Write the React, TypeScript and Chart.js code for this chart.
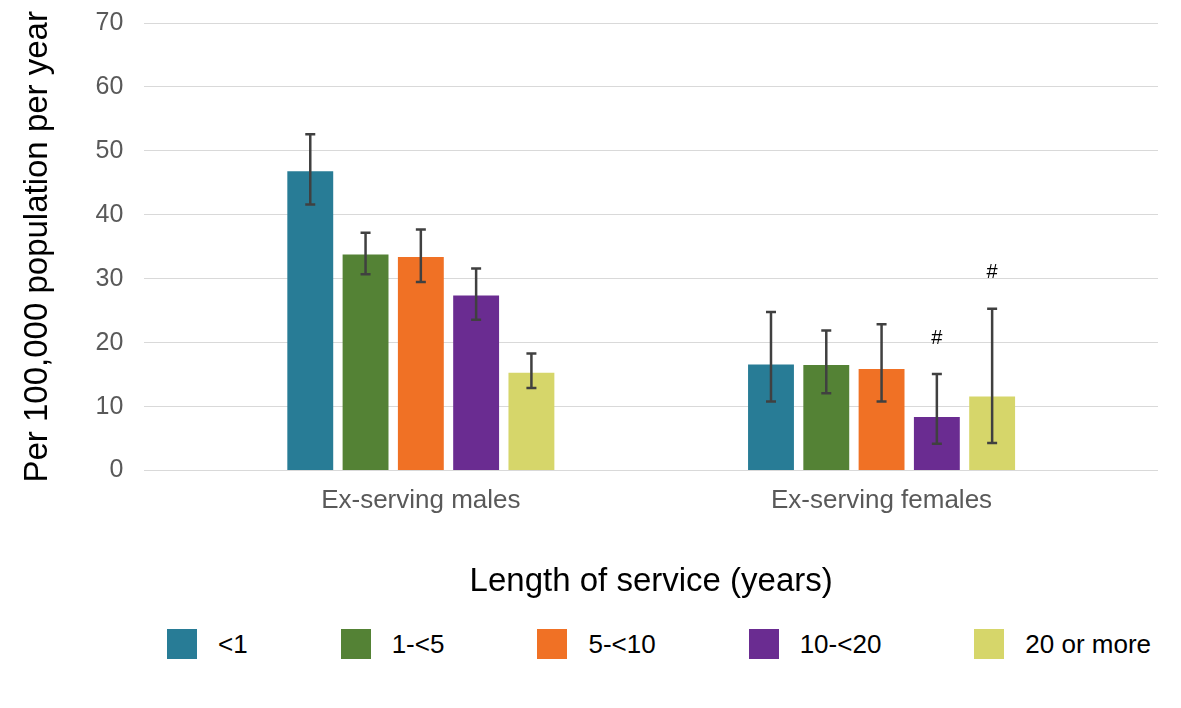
import React, { useEffect, useRef } from "react";
import { Chart, registerables } from "chart.js";

Chart.register(...registerables);

// Groups along the horizontal axis
const groupLabels = ["Ex-serving males", "Ex-serving females"];

// Length-of-service bands
const seriesNames = ["<1", "1-<5", "5-<10", "10-<20", "20 or more"];
const seriesColors = ["#287C96", "#548235", "#F07125", "#6A2C91", "#D6D66A"];

// Rates per 100,000 population per year: [males, females]
const rateLt1 = [46.8, 16.6];
const rate1to5 = [33.8, 16.5];
const rate5to10 = [33.4, 15.9];
const rate10to20 = [27.4, 8.4];
const rate20plus = [15.3, 11.6];

// 95% confidence interval bounds: [males, females]
const lowerLt1 = [41.6, 10.8];
const upperLt1 = [52.6, 24.8];
const lower1to5 = [30.7, 12.1];
const upper1to5 = [37.2, 21.9];
const lower5to10 = [29.5, 10.8];
const upper5to10 = [37.7, 22.9];
const lower10to20 = [23.6, 4.2];
const upper10to20 = [31.6, 15.1];
const lower20plus = [12.9, 4.3];
const upper20plus = [18.3, 25.3];

// Footnote markers shown above the interval: [males, females]
const flagLt1 = ["", ""];
const flag1to5 = ["", ""];
const flag5to10 = ["", ""];
const flag10to20 = ["", "#"];
const flag20plus = ["", "#"];

// Y-axis range
const yMin = 0;
const yMax = 70;
const yStep = 10;

const rates = [rateLt1, rate1to5, rate5to10, rate10to20, rate20plus];
const lowers = [lowerLt1, lower1to5, lower5to10, lower10to20, lower20plus];
const uppers = [upperLt1, upper1to5, upper5to10, upper10to20, upper20plus];
const flags = [flagLt1, flag1to5, flag5to10, flag10to20, flag20plus];

const FONT = "'Liberation Sans', Arial, Helvetica, sans-serif";

// Draws the confidence-interval whiskers and footnote markers on top of the bars
const errorBarPlugin = {
  id: "errorBars",
  afterDatasetsDraw(chart: any) {
    const { ctx } = chart;
    const yScale = chart.scales.y;
    ctx.save();
    chart.data.datasets.forEach((_ds: any, i: number) => {
      const meta = chart.getDatasetMeta(i);
      if (meta.hidden) return;
      meta.data.forEach((bar: any, j: number) => {
        const x = bar.x;
        const yU = yScale.getPixelForValue(uppers[i][j]);
        const yL = yScale.getPixelForValue(lowers[i][j]);
        const cap = 5;
        ctx.strokeStyle = "#404040";
        ctx.lineWidth = 2.5;
        ctx.lineCap = "butt";
        ctx.beginPath();
        ctx.moveTo(x, yU);
        ctx.lineTo(x, yL);
        ctx.moveTo(x - cap, yU);
        ctx.lineTo(x + cap, yU);
        ctx.moveTo(x - cap, yL);
        ctx.lineTo(x + cap, yL);
        ctx.stroke();
        const flag = flags[i][j];
        if (flag) {
          ctx.fillStyle = "#000000";
          ctx.font = `20px ${FONT}`;
          ctx.textAlign = "center";
          ctx.textBaseline = "middle";
          ctx.fillText(flag, x, yU - 36);
        }
      });
    });
    ctx.restore();
  },
};

function ChartCanvas() {
  const canvasRef = useRef<HTMLCanvasElement | null>(null);

  useEffect(() => {
    if (!canvasRef.current) return;
    Chart.defaults.font.family = FONT;
    const chart = new Chart(canvasRef.current, {
      type: "bar",
      data: {
        datasets: seriesNames.map((name, i) => ({
          label: name,
          data: rates[i].map((v, j) => ({ x: j, y: v })),
          backgroundColor: seriesColors[i],
          borderWidth: 0,
          categoryPercentage: 0.6,
          barPercentage: 0.83,
        })),
      },
      options: {
        animation: false,
        responsive: true,
        maintainAspectRatio: false,
        layout: { padding: { top: 23, left: 0, right: 23, bottom: 0 } },
        plugins: {
          legend: { display: false },
          tooltip: { enabled: false },
        },
        scales: {
          x: {
            type: "linear",
            min: -0.6,
            max: 1.6,
            offset: false,
            afterBuildTicks: (scale: any) => {
              scale.ticks = groupLabels.map((_l, i) => ({ value: i }));
            },
            grid: { display: false, tickLength: 15 },
            border: { display: false },
            ticks: {
              color: "#595959",
              font: { size: 26 },
              padding: 0,
              maxRotation: 0,
              autoSkip: false,
              callback: (value: any) => groupLabels[Number(value)] ?? "",
            },
            title: {
              display: true,
              text: "Length of service (years)",
              color: "#000000",
              font: { size: 33 },
              padding: { top: 45.6, bottom: 10 },
            },
          },
          y: {
            min: yMin,
            max: yMax,
            ticks: {
              stepSize: yStep,
              color: "#595959",
              font: { size: 25 },
              padding: 0,
            },
            grid: {
              color: "#d9d9d9",
              lineWidth: 1,
              drawTicks: true,
              tickLength: 21,
              tickColor: "rgba(0,0,0,0)",
            },
            border: { display: false },
            title: {
              display: true,
              text: "Per 100,000 population per year",
              color: "#000000",
              font: { size: 33 },
              padding: { top: 18, bottom: 38 },
            },
          },
        },
      },
      plugins: [errorBarPlugin],
    });
    return () => chart.destroy();
  }, []);

  return (
    <div style={{ position: "relative", width: 1181, height: 612 }}>
      <canvas ref={canvasRef} />
    </div>
  );
}

function Legend() {
  return (
    <div
      style={{
        position: "absolute",
        left: 167,
        top: 629,
        display: "flex",
        alignItems: "center",
        gap: 93,
        fontFamily: FONT,
        fontSize: 26,
        color: "#000000",
        whiteSpace: "nowrap",
      }}
    >
      {seriesNames.map((name, i) => (
        <div key={name} style={{ display: "flex", alignItems: "center", height: 30 }}>
          <span
            style={{
              display: "inline-block",
              width: 30,
              height: 30,
              background: seriesColors[i],
              marginRight: 21,
            }}
          />
          <span style={{ lineHeight: "30px" }}>{name}</span>
        </div>
      ))}
    </div>
  );
}

export default function App() {
  return (
    <div
      style={{
        position: "fixed",
        left: 0,
        top: 0,
        width: 1181,
        height: 708,
        background: "#ffffff",
      }}
    >
      <ChartCanvas />
      <Legend />
    </div>
  );
}
